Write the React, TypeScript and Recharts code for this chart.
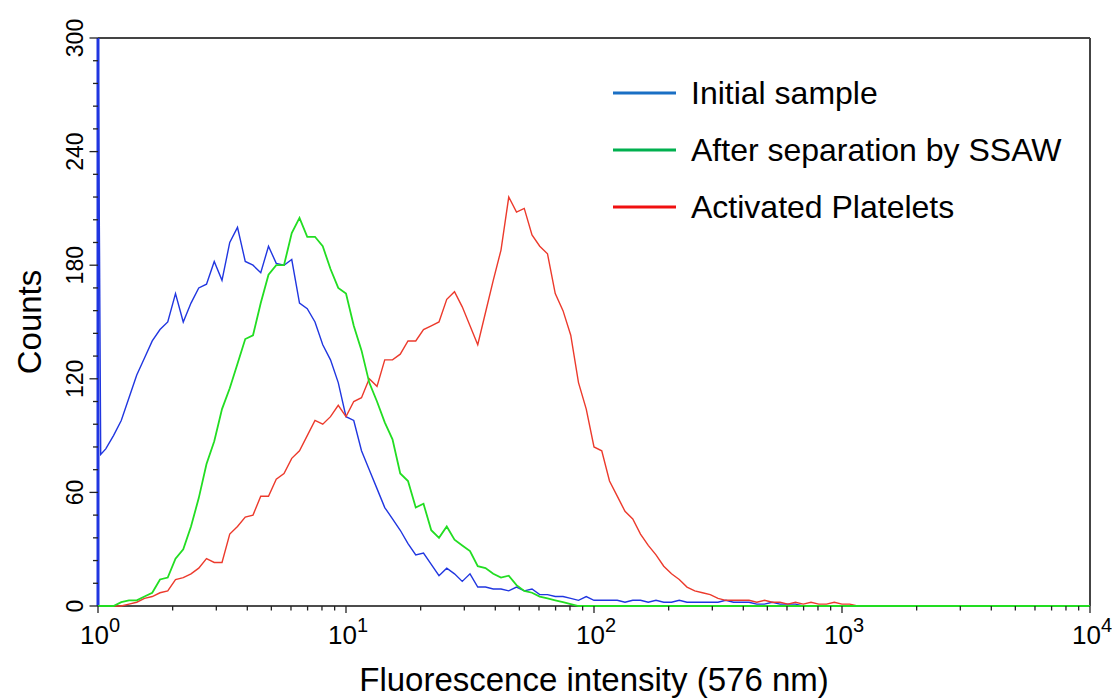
import { LineChart, Line, XAxis, YAxis, ReferenceLine } from 'recharts';

// 256-channel log histogram sampled every 2nd channel: 32 channels per decade, 10^0 .. 10^4
const CHANNELS_PER_DECADE = 32;

// first channel of the initial sample is saturated (runs off the top of the scale)
const initialSampleSpike = [
  { channel: 0, count: 0 },
  { channel: 0, count: 300 },
];
const initialSampleOnset = [
  { channel: 0, count: 300 },
  { channel: 0.2, count: 185 },
  { channel: 0.35, count: 80 },
];

// channels 1..128
const initialSample = [
  83, 90, 98, 110, 122, 131, 140, 146, 150, 165,
  150, 160, 168, 170, 182, 172, 192, 200, 182, 180,
  176, 190, 181, 180, 183, 160, 157, 150, 138, 130,
  118, 100, 98, 82, 72, 62, 52, 46, 40, 33,
  27, 28, 22, 16, 20, 17, 13, 17, 10, 10,
  9, 9, 8, 10, 8, 9, 6, 6, 5, 5,
  4, 3, 5, 3, 3, 3, 3, 2, 3, 3,
  2, 3, 2, 2, 3, 2, 2, 2, 2, 2,
  3, 2, 2, 2, 1, 1, 2, 1, 1, 1,
  0, 0, 0, 0, 0, 0, 0, 0, 0, 0,
  0, 0, 0, 0, 0, 0, 0, 0, 0, 0,
  0, 0, 0, 0, 0, 0, 0, 0, 0, 0,
  0, 0, 0, 0, 0, 0, 0, 0,
];

// channels 0..128
const afterSsaw = [
  0, 0, 0, 2, 3, 3, 5, 7, 14, 15,
  25, 30, 42, 57, 75, 87, 104, 115, 128, 141,
  143, 160, 175, 180, 180, 197, 205, 195, 195, 190,
  178, 168, 165, 148, 135, 118, 108, 97, 88, 70,
  66, 52, 54, 40, 36, 42, 35, 32, 29, 21,
  20, 17, 15, 16, 11, 8, 7, 5, 4, 3,
  2, 1, 0, 0, 0, 0, 0, 0, 0, 0,
  0, 0, 0, 0, 0, 0, 0, 0, 0, 0,
  0, 0, 0, 0, 0, 0, 0, 0, 0, 0,
  0, 0, 0, 0, 0, 0, 0, 0, 0, 0,
  0, 0, 0, 0, 0, 0, 0, 0, 0, 0,
  0, 0, 0, 0, 0, 0, 0, 0, 0, 0,
  0, 0, 0, 0, 0, 0, 0, 0, 0,
];

// channels 0..128
const activatedPlatelets = [
  0, 0, 0, 0, 1, 2, 4, 5, 7, 8,
  14, 15, 17, 20, 25, 23, 23, 38, 42, 47,
  48, 58, 58, 67, 70, 78, 82, 90, 98, 96,
  100, 106, 100, 108, 110, 120, 116, 130, 130, 133,
  140, 140, 146, 148, 150, 162, 166, 158, 148, 138,
  155, 172, 188, 216, 208, 210, 196, 190, 186, 165,
  156, 143, 118, 104, 84, 82, 66, 58, 50, 46,
  38, 32, 27, 21, 17, 14, 10, 8, 7, 6,
  4, 3, 3, 3, 3, 2, 3, 2, 2, 1,
  2, 1, 2, 1, 1, 2, 1, 1, 0, 0,
  0, 0, 0, 0, 0, 0, 0, 0, 0, 0,
  0, 0, 0, 0, 0, 0, 0, 0, 0, 0,
  0, 0, 0, 0, 0, 0, 0, 0, 0,
];

const xTicks = [
  1, 2, 3, 4, 5, 6, 7, 8, 9,
  10, 20, 30, 40, 50, 60, 70, 80, 90,
  100, 200, 300, 400, 500, 600, 700, 800, 900,
  1000, 2000, 3000, 4000, 5000, 6000, 7000, 8000, 9000,
  10000,
];
const yTicks = [
  0, 12, 24, 36, 48, 60, 72, 84, 96, 108, 120, 132, 144, 156, 168,
  180, 192, 204, 216, 228, 240, 252, 264, 276, 288, 300,
];
const yLabels = [0, 60, 120, 180, 240, 300];

const seriesNames = ['Initial sample', 'After separation by SSAW', 'Activated Platelets'];
const legendColors = ['#1a6fc4', '#00b04f', '#f01010'];
const lineColors = ['#2036e0', '#22dd22', '#ec3a2c'];

const toX = (channel: number) => 10 ** (channel / CHANNELS_PER_DECADE);
const toPoints = (counts: number[], first: number) =>
  counts.map((count, k) => ({ x: toX(first + k), count }));

const spikeData = initialSampleSpike.map((p) => ({ x: toX(p.channel), count: p.count }));
const blueData = [
  ...initialSampleOnset.map((p) => ({ x: toX(p.channel), count: p.count })),
  ...toPoints(initialSample, 1),
];
const greenData = toPoints(afterSsaw, 0);
const redData = toPoints(activatedPlatelets, 0);

const FONT = '"Liberation Sans", Arial, sans-serif';
const TICK = '#222';

function XTick(props: any) {
  const { x, y, payload } = props;
  const exp = Math.round(Math.log10(payload.value));
  const major = 10 ** exp === payload.value;
  return (
    <g>
      <line x1={x} x2={x} y1={y} y2={y + (major ? 7 : 4.5)} stroke={TICK} strokeWidth={1.3} />
      {major && (
        <text x={x + 2} y={y + 38} textAnchor="middle" fill="#000" fontSize={26} fontFamily={FONT}>
          <tspan>10</tspan>
          <tspan dy={-12} fontSize={20}>{exp}</tspan>
        </text>
      )}
    </g>
  );
}

function YTick(props: any) {
  const { x, y, payload } = props;
  const major = yLabels.includes(payload.value);
  const tx = x - 15;
  return (
    <g>
      <line x1={x} x2={x - (major ? 8.5 : 5)} y1={y} y2={y} stroke={TICK} strokeWidth={1.3} />
      {major && (
        <text
          x={tx}
          y={y}
          transform={`rotate(-90, ${tx}, ${y})`}
          textAnchor="middle"
          fill="#000"
          fontSize={23}
          fontFamily={FONT}
        >
          {payload.value}
        </text>
      )}
    </g>
  );
}

function CountsLabel(props: any) {
  const { viewBox } = props;
  const cx = 41;
  const cy = viewBox.y + viewBox.height / 2;
  return (
    <text
      x={cx}
      y={cy}
      transform={`rotate(-90, ${cx}, ${cy})`}
      textAnchor="middle"
      fill="#000"
      fontSize={33}
      fontFamily={FONT}
    >
      Counts
    </text>
  );
}

function IntensityLabel(props: any) {
  const { viewBox } = props;
  return (
    <text
      x={viewBox.x + viewBox.width / 2}
      y={691}
      textAnchor="middle"
      fill="#000"
      fontSize={33}
      fontFamily={FONT}
    >
      Fluorescence intensity (576 nm)
    </text>
  );
}

function LegendBox() {
  return (
    <svg
      width={520}
      height={180}
      style={{ position: 'absolute', left: 600, top: 60, pointerEvents: 'none' }}
    >
      {seriesNames.map((name, i) => (
        <g key={name}>
          <line x1={13} x2={76} y1={33 + i * 57} y2={33 + i * 57} stroke={legendColors[i]} strokeWidth={3} />
          <text x={91} y={44 + i * 57} fontSize={32} fontFamily={FONT} fill="#000">
            {name}
          </text>
        </g>
      ))}
    </svg>
  );
}

// lines sit above the axis lines, as in the original plot
const lineProps: any = {
  dataKey: 'count',
  type: 'linear',
  dot: false,
  activeDot: false,
  isAnimationActive: false,
  zIndex: 600,
};

export default function App() {
  return (
    <div style={{ position: 'absolute', left: 0, top: 0, width: 1112, height: 699, background: '#fff' }}>
      <LineChart
        width={1112}
        height={699}
        margin={{ top: 38, right: 22, bottom: 0, left: 0 }}
        style={{ fontFamily: FONT }}
      >
        <XAxis
          dataKey="x"
          type="number"
          scale="log"
          domain={[1, 10000]}
          ticks={xTicks}
          interval={0}
          height={93}
          tickSize={0}
          tickMargin={0}
          tick={XTick}
          tickLine={false}
          axisLine={{ stroke: '#111', strokeWidth: 1.4 }}
          label={IntensityLabel}
        />
        <YAxis
          type="number"
          domain={[0, 300]}
          ticks={yTicks}
          interval={0}
          width={98}
          tickSize={0}
          tickMargin={0}
          tick={YTick}
          tickLine={false}
          axisLine={{ stroke: '#111', strokeWidth: 1.4 }}
          label={CountsLabel}
        />
        <ReferenceLine y={300} stroke="#444" strokeWidth={2} />
        <ReferenceLine x={10000} stroke="#444" strokeWidth={2} />
        <Line {...lineProps} data={spikeData} name={seriesNames[0]} stroke={lineColors[0]} strokeWidth={3} legendType="none" />
        <Line {...lineProps} data={blueData} name={seriesNames[0]} stroke={lineColors[0]} strokeWidth={1.4} />
        <Line {...lineProps} data={redData} name={seriesNames[2]} stroke={lineColors[2]} strokeWidth={1.4} />
        <Line {...lineProps} data={greenData} name={seriesNames[1]} stroke={lineColors[1]} strokeWidth={1.8} />
      </LineChart>
      <LegendBox />
    </div>
  );
}
